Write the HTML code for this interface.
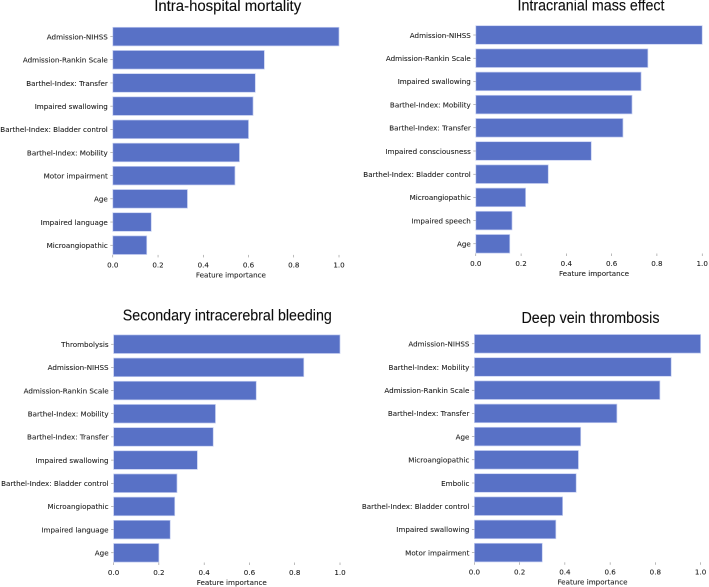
<!DOCTYPE html>
<html lang="en">
<head>
<meta charset="utf-8">
<title>Feature importance charts</title>
<style>
html,body{margin:0;padding:0;background:#fff;width:709px;height:587px;overflow:hidden}
svg{display:block}
.tick{font-family:"DejaVu Sans","Liberation Sans",sans-serif;font-size:7.15px;fill:#1c1c1c;stroke:#1c1c1c;stroke-width:0.08}
.title{font-family:"Liberation Sans",sans-serif;font-size:15.5px;fill:#111;stroke:#111;stroke-width:0.12}
</style>
</head>
<body>
<svg id="fig" xmlns="http://www.w3.org/2000/svg" width="709" height="587" viewBox="0 0 709 587">
<defs><filter id="soft" x="-2%" y="-2%" width="104%" height="104%"><feGaussianBlur stdDeviation="0.35"/></filter></defs>
<rect width="709" height="587" fill="#ffffff"/>
<g id="root" filter="url(#soft)"></g>
</svg>
<script>
const xTicks = [0, 0.2, 0.4, 0.6, 0.8, 1.0];
const xAxisTitle = 'Feature importance';

const mortalityTitle = 'Intra-hospital mortality';
const mortalityLabels = ['Admission-NIHSS','Admission-Rankin Scale','Barthel-Index: Transfer','Impaired swallowing','Barthel-Index: Bladder control','Barthel-Index: Mobility','Motor impairment','Age','Impaired language','Microangiopathic'];
const mortalityValues = [1.0,0.67,0.63,0.62,0.60,0.56,0.54,0.33,0.17,0.15];

const massTitle = 'Intracranial mass effect';
const massLabels = ['Admission-NIHSS','Admission-Rankin Scale','Impaired swallowing','Barthel-Index: Mobility','Barthel-Index: Transfer','Impaired consciousness','Barthel-Index: Bladder control','Microangiopathic','Impaired speech','Age'];
const massValues = [1.0,0.76,0.73,0.69,0.65,0.51,0.32,0.22,0.16,0.15];

const bleedingTitle = 'Secondary intracerebral bleeding';
const bleedingLabels = ['Thrombolysis','Admission-NIHSS','Admission-Rankin Scale','Barthel-Index: Mobility','Barthel-Index: Transfer','Impaired swallowing','Barthel-Index: Bladder control','Microangiopathic','Impaired language','Age'];
const bleedingValues = [1.0,0.84,0.63,0.45,0.44,0.37,0.28,0.27,0.25,0.20];

const thrombosisTitle = 'Deep vein thrombosis';
const thrombosisLabels = ['Admission-NIHSS','Barthel-Index: Mobility','Admission-Rankin Scale','Barthel-Index: Transfer','Age','Microangiopathic','Embolic','Barthel-Index: Bladder control','Impaired swallowing','Motor impairment'];
const thrombosisValues = [1.0,0.87,0.82,0.63,0.47,0.46,0.45,0.39,0.36,0.30];

const NS = 'http://www.w3.org/2000/svg';
const root = document.getElementById('root');

function make(tag, attrs, parent) {
  const el = document.createElementNS(NS, tag);
  for (const k in attrs) el.setAttribute(k, attrs[k]);
  parent.appendChild(el);
  return el;
}

function drawPanel(key, title, labels, values, box) {
  const group = make('g', {}, root);
  
  

  const xScale = v => box.x0 + v * (box.x1 - box.x0);
  const step = (box.lastCy - box.firstCy) / (labels.length - 1);
  const yScale = i => box.firstCy + i * step;
  const barH = 18.6;
  const bottom = yScale(labels.length - 1) + barH / 2 + 0.4;

  const t = make('text', {x: box.titleX, y: box.titleY, 'text-anchor': 'middle', 'class': 'title', textLength: box.titleW, lengthAdjust: 'spacingAndGlyphs'}, group);
  
  
  t.textContent = title;

  labels.forEach((label, i) => {
    const cy = yScale(i);
    const bar = make('rect', {x: xScale(0), y: cy - barH / 2, width: xScale(values[i]) - xScale(0), height: barH, fill: '#5871c6', stroke: '#c3cdf0', 'stroke-width': 0.7}, group);
    
    

    const tick = make('line', {x1: xScale(0) - 2.5, x2: xScale(0), y1: cy, y2: cy, stroke: '#777', 'stroke-width': 0.5}, group);
    
    

    const text = make('text', {x: xScale(0) - 5, y: cy + 2.8, 'text-anchor': 'end', 'class': 'tick'}, group);
    
    
    text.textContent = label;
  });

  xTicks.forEach(v => {
    const px = xScale(v);
    const tick = make('line', {x1: px, x2: px, y1: bottom, y2: bottom + 2.5, stroke: '#777', 'stroke-width': 0.5}, group);
    
    

    const text = make('text', {x: px, y: bottom + 12.4, 'text-anchor': 'middle', 'class': 'tick'}, group);
    
    
    text.textContent = v.toFixed(1);
  });

  const xt = make('text', {x: (xScale(0) + xScale(1)) / 2 + 5, y: bottom + 22.4, 'text-anchor': 'middle', 'class': 'tick'}, group);
  
  
  xt.textContent = xAxisTitle;
}

drawPanel('intra-hospital-mortality', mortalityTitle, mortalityLabels, mortalityValues,
  {x0: 112.8, x1: 339, firstCy: 36.6, lastCy: 245.2, titleX: 227.7, titleY: 11, titleW: 147});
drawPanel('intracranial-mass-effect', massTitle, massLabels, massValues,
  {x0: 475.8, x1: 702.2, firstCy: 35, lastCy: 243.8, titleX: 591, titleY: 10.7, titleW: 147});
drawPanel('secondary-intracerebral-bleeding', bleedingTitle, bleedingLabels, bleedingValues,
  {x0: 113.6, x1: 340, firstCy: 344.2, lastCy: 552.8, titleX: 227.3, titleY: 320.5, titleW: 209});
drawPanel('deep-vein-thrombosis', thrombosisTitle, thrombosisLabels, thrombosisValues,
  {x0: 474.4, x1: 700.6, firstCy: 343.8, lastCy: 552.6, titleX: 590.5, titleY: 323, titleW: 138});
</script>
</body>
</html>
